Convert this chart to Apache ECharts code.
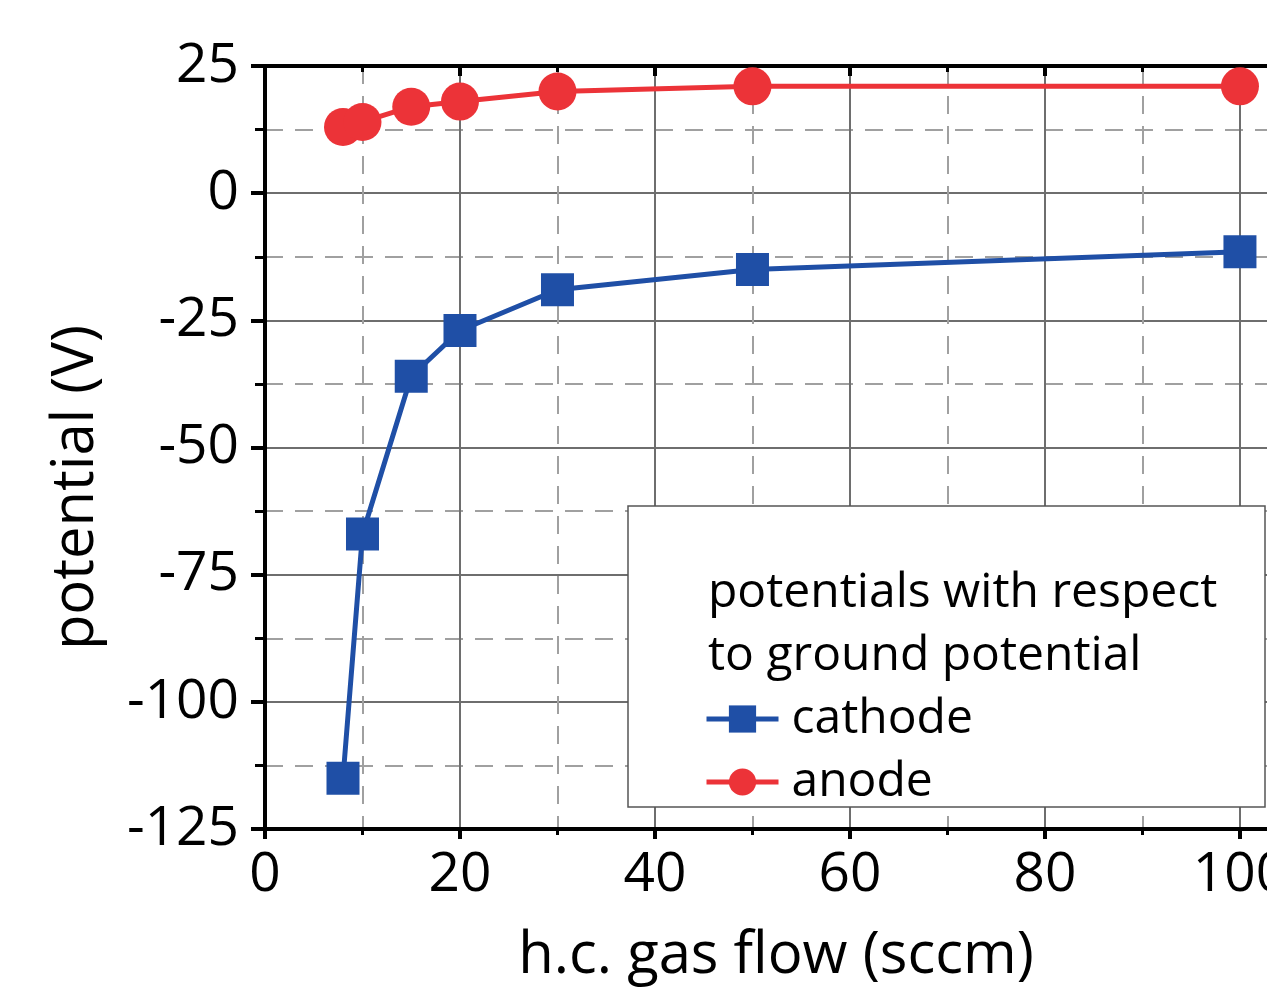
<!DOCTYPE html>
<html>
<head>
<meta charset="utf-8">
<script src="https://cdn.jsdelivr.net/npm/echarts@6/dist/echarts.min.js"></script>
<style>
  html, body { margin: 0; padding: 0; background: #fff; }
  #chart { width: 1267px; height: 988px; }
</style>
</head>
<body>
<div id="chart"></div>
<script>
// gas flow (sccm) and potentials (V)
var flow = [8, 10, 15, 20, 30, 50, 100];
var cathode = [-115, -67, -36, -27, -19, -15, -11.5];
var anode = [13, 14, 17, 18, 20, 21, 21];

var FONT = '"Open Sans", "Noto Sans", sans-serif';

function pairs(xs, ys) {
    return xs.map(function (x, i) { return [x, ys[i]]; });
}

var chart = echarts.init(document.getElementById('chart'));

// the figure is cropped on the right, so the plot runs past the window edge
var X_MAX = 103.8;

var option = {
    backgroundColor: '#fff',
    animation: false,
    textStyle: { fontFamily: FONT },
    grid: { left: 265, top: 66, right: -10, bottom: 159, containLabel: false, outerBoundsMode: 'none' },
    xAxis: [{
        type: 'value',
        min: 0, max: X_MAX, interval: 20,
        name: 'h.c. gas flow (sccm)',
        nameLocation: 'middle',
        nameGap: 98,
        nameTextStyle: { fontSize: 58, color: '#000', fontFamily: FONT, padding: [0, 0, 0, 10] },
        axisLine: { show: true, onZero: false, lineStyle: { color: '#000', width: 4 } },
        axisTick: { show: true, inside: false, length: 10, lineStyle: { color: '#000', width: 4 } },
        minorTick: { show: true, splitNumber: 2, length: 6, lineStyle: { color: '#000', width: 3 } },
        axisLabel: { fontSize: 55, color: '#000', margin: 19, showMaxLabel: false, fontFamily: FONT },
        splitLine: { show: true, lineStyle: { color: '#6e6e6e', width: 2 } },
        minorSplitLine: { show: true, lineStyle: { color: '#a0a0a0', width: 2, type: [18, 12] } }
    }, {
        type: 'value',
        position: 'top',
        min: 0, max: X_MAX, interval: 20,
        axisLine: { show: true, onZero: false, lineStyle: { color: '#000', width: 4 } },
        axisTick: { show: true, inside: true, length: 10, lineStyle: { color: '#000', width: 4 } },
        minorTick: { show: true, splitNumber: 2, length: 6, lineStyle: { color: '#000', width: 3 } },
        axisLabel: { show: false },
        splitLine: { show: false }
    }],
    yAxis: {
        type: 'value',
        min: -125, max: 25, interval: 25,
        name: 'potential (V)',
        nameLocation: 'middle',
        nameGap: 160,
        nameRotate: 90,
        nameTextStyle: { fontSize: 58, color: '#000', fontFamily: FONT, padding: [0, 80, 0, 0] },
        axisLine: { show: true, onZero: false, lineStyle: { color: '#000', width: 4 } },
        axisTick: { show: true, inside: false, length: 14, lineStyle: { color: '#000', width: 4 } },
        minorTick: { show: true, splitNumber: 2, length: 10, lineStyle: { color: '#000', width: 3 } },
        axisLabel: { fontSize: 55, color: '#000', margin: 26, fontFamily: FONT },
        splitLine: { show: true, lineStyle: { color: '#6e6e6e', width: 2 } },
        minorSplitLine: { show: true, lineStyle: { color: '#a0a0a0', width: 2, type: [18, 12] } }
    },
    legend: {
        orient: 'vertical',
        left: 704, top: 695,
        padding: 0,
        itemWidth: 72, itemHeight: 34, itemGap: 15,
        lineStyle: { width: 5 },
        textStyle: { fontSize: 48, color: '#000', fontFamily: FONT, padding: [0, 0, 0, 8] },
        data: ['cathode', 'anode'],
        z: 20
    },
    graphic: [{
        type: 'rect',
        z: 10,
        shape: { x: 628, y: 506, width: 637, height: 301 },
        style: { fill: '#fff', stroke: '#555', lineWidth: 1.5 }
    }, {
        type: 'text',
        z: 11,
        left: 708, top: 562,
        style: {
            text: 'potentials with respect\nto ground potential',
            font: '48px ' + FONT,
            lineHeight: 63,
            fill: '#000'
        }
    }],
    series: [{
        name: 'cathode',
        type: 'line',
        data: pairs(flow, cathode),
        symbol: 'rect',
        symbolSize: 33,
        lineStyle: { color: '#1f4fa6', width: 5 },
        itemStyle: { color: '#1f4fa6' },
        z: 5
    }, {
        name: 'anode',
        type: 'line',
        data: pairs(flow, anode),
        symbol: 'circle',
        symbolSize: 38,
        lineStyle: { color: '#ec3338', width: 5 },
        itemStyle: { color: '#ec3338' },
        z: 5
    }]
};

chart.setOption(option);
</script>
</body>
</html>
